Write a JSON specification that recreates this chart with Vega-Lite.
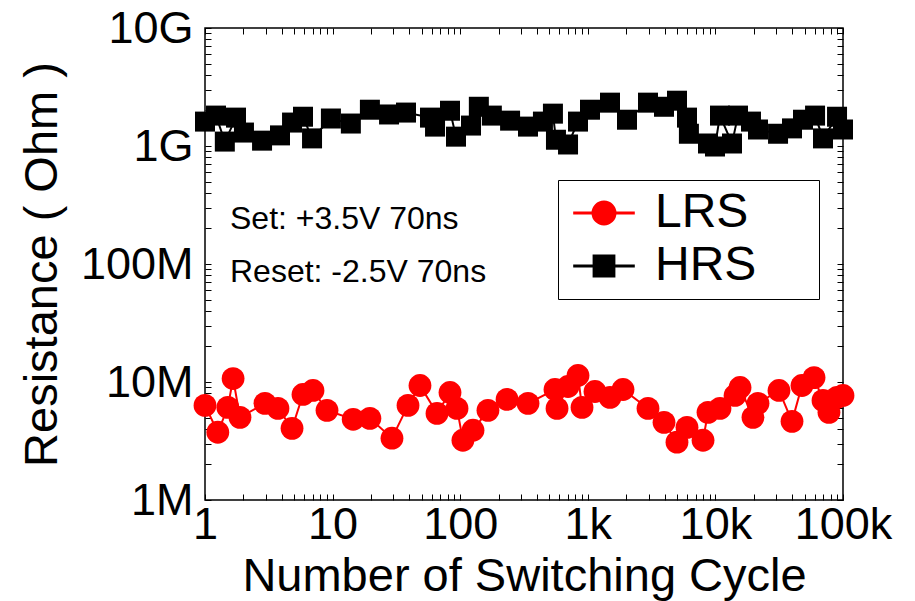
{
  "$schema": "https://vega.github.io/schema/vega-lite/v6.json",
  "width": 638,
  "height": 472,
  "autosize": {"type": "none"},
  "padding": {"left": 205, "top": 28, "right": 72, "bottom": 101},
  "background": "white",
  "config": {
    "font": "Liberation Sans",
    "view": {"stroke": "black", "strokeWidth": 1.5},
    "axis": {"grid": false, "domain": false, "labelFont": "Liberation Sans", "titleFont": "Liberation Sans", "labelColor": "black", "titleColor": "black", "tickColor": "black", "titleFontWeight": "normal"}
  },
  "datasets": {
    "pts": [
      {"series": "HRS", "cycle": 1, "r": 1.61e9},
      {"series": "HRS", "cycle": 1.22, "r": 1.81e9},
      {"series": "HRS", "cycle": 1.43, "r": 1.09e9},
      {"series": "HRS", "cycle": 1.75, "r": 1.74e9},
      {"series": "HRS", "cycle": 2.02, "r": 1.30e9},
      {"series": "HRS", "cycle": 2.80, "r": 1.11e9},
      {"series": "HRS", "cycle": 3.87, "r": 1.23e9},
      {"series": "HRS", "cycle": 4.81, "r": 1.58e9},
      {"series": "HRS", "cycle": 5.86, "r": 1.77e9},
      {"series": "HRS", "cycle": 6.90, "r": 1.16e9},
      {"series": "HRS", "cycle": 9.7, "r": 1.71e9},
      {"series": "HRS", "cycle": 13.9, "r": 1.55e9},
      {"series": "HRS", "cycle": 19.6, "r": 2.03e9},
      {"series": "HRS", "cycle": 27.7, "r": 1.85e9},
      {"series": "HRS", "cycle": 37.6, "r": 1.92e9},
      {"series": "HRS", "cycle": 58, "r": 1.74e9},
      {"series": "HRS", "cycle": 63.5, "r": 1.46e9},
      {"series": "HRS", "cycle": 83.2, "r": 1.99e9},
      {"series": "HRS", "cycle": 92.7, "r": 1.20e9},
      {"series": "HRS", "cycle": 121.5, "r": 1.49e9},
      {"series": "HRS", "cycle": 140, "r": 2.15e9},
      {"series": "HRS", "cycle": 177, "r": 1.81e9},
      {"series": "HRS", "cycle": 246, "r": 1.64e9},
      {"series": "HRS", "cycle": 340, "r": 1.46e9},
      {"series": "HRS", "cycle": 445, "r": 1.61e9},
      {"series": "HRS", "cycle": 533, "r": 1.88e9},
      {"series": "HRS", "cycle": 563, "r": 1.13e9},
      {"series": "HRS", "cycle": 700, "r": 1.03e9},
      {"series": "HRS", "cycle": 838, "r": 1.61e9},
      {"series": "HRS", "cycle": 1040, "r": 2.03e9},
      {"series": "HRS", "cycle": 1493, "r": 2.33e9},
      {"series": "HRS", "cycle": 2028, "r": 1.67e9},
      {"series": "HRS", "cycle": 2963, "r": 2.33e9},
      {"series": "HRS", "cycle": 3957, "r": 2.15e9},
      {"series": "HRS", "cycle": 5000, "r": 2.42e9},
      {"series": "HRS", "cycle": 5990, "r": 1.74e9},
      {"series": "HRS", "cycle": 6200, "r": 1.27e9},
      {"series": "HRS", "cycle": 8750, "r": 1.05e9},
      {"series": "HRS", "cycle": 9930, "r": 0.99e9},
      {"series": "HRS", "cycle": 10860, "r": 1.81e9},
      {"series": "HRS", "cycle": 13490, "r": 1.05e9},
      {"series": "HRS", "cycle": 15030, "r": 1.81e9},
      {"series": "HRS", "cycle": 19000, "r": 1.61e9},
      {"series": "HRS", "cycle": 21570, "r": 1.38e9},
      {"series": "HRS", "cycle": 30970, "r": 1.27e9},
      {"series": "HRS", "cycle": 39850, "r": 1.41e9},
      {"series": "HRS", "cycle": 48600, "r": 1.67e9},
      {"series": "HRS", "cycle": 60400, "r": 1.81e9},
      {"series": "HRS", "cycle": 69700, "r": 1.16e9},
      {"series": "HRS", "cycle": 89800, "r": 1.77e9},
      {"series": "HRS", "cycle": 100000, "r": 1.38e9},
      {"series": "LRS", "cycle": 1, "r": 6.33e6},
      {"series": "LRS", "cycle": 1.26, "r": 3.75e6},
      {"series": "LRS", "cycle": 1.51, "r": 6.09e6},
      {"series": "LRS", "cycle": 1.66, "r": 10.7e6},
      {"series": "LRS", "cycle": 1.88, "r": 5.02e6},
      {"series": "LRS", "cycle": 2.95, "r": 6.59e6},
      {"series": "LRS", "cycle": 3.73, "r": 5.97e6},
      {"series": "LRS", "cycle": 4.81, "r": 4.05e6},
      {"series": "LRS", "cycle": 5.86, "r": 7.84e6},
      {"series": "LRS", "cycle": 7.02, "r": 8.48e6},
      {"series": "LRS", "cycle": 9.04, "r": 5.75e6},
      {"series": "LRS", "cycle": 14.5, "r": 4.83e6},
      {"series": "LRS", "cycle": 19.6, "r": 4.92e6},
      {"series": "LRS", "cycle": 29.2, "r": 3.34e6},
      {"series": "LRS", "cycle": 39.0, "r": 6.33e6},
      {"series": "LRS", "cycle": 48.4, "r": 9.34e6},
      {"series": "LRS", "cycle": 65.8, "r": 5.42e6},
      {"series": "LRS", "cycle": 83.2, "r": 8.15e6},
      {"series": "LRS", "cycle": 94.4, "r": 5.97e6},
      {"series": "LRS", "cycle": 105, "r": 3.21e6},
      {"series": "LRS", "cycle": 126, "r": 3.90e6},
      {"series": "LRS", "cycle": 165, "r": 5.75e6},
      {"series": "LRS", "cycle": 233, "r": 7.12e6},
      {"series": "LRS", "cycle": 340, "r": 6.59e6},
      {"series": "LRS", "cycle": 553, "r": 8.64e6},
      {"series": "LRS", "cycle": 574, "r": 5.97e6},
      {"series": "LRS", "cycle": 700, "r": 9.16e6},
      {"series": "LRS", "cycle": 838, "r": 11.35e6},
      {"series": "LRS", "cycle": 901, "r": 6.09e6},
      {"series": "LRS", "cycle": 1138, "r": 8.31e6},
      {"series": "LRS", "cycle": 1493, "r": 7.40e6},
      {"series": "LRS", "cycle": 1888, "r": 8.64e6},
      {"series": "LRS", "cycle": 2963, "r": 5.97e6},
      {"series": "LRS", "cycle": 3957, "r": 4.55e6},
      {"series": "LRS", "cycle": 5000, "r": 3.09e6},
      {"series": "LRS", "cycle": 5990, "r": 4.13e6},
      {"series": "LRS", "cycle": 8000, "r": 3.21e6},
      {"series": "LRS", "cycle": 8750, "r": 5.53e6},
      {"series": "LRS", "cycle": 10860, "r": 5.97e6},
      {"series": "LRS", "cycle": 14250, "r": 7.69e6},
      {"series": "LRS", "cycle": 15600, "r": 8.99e6},
      {"series": "LRS", "cycle": 19700, "r": 5.02e6},
      {"series": "LRS", "cycle": 21570, "r": 6.59e6},
      {"series": "LRS", "cycle": 31500, "r": 8.48e6},
      {"series": "LRS", "cycle": 39850, "r": 4.64e6},
      {"series": "LRS", "cycle": 47700, "r": 9.34e6},
      {"series": "LRS", "cycle": 59300, "r": 10.9e6},
      {"series": "LRS", "cycle": 69700, "r": 6.98e6},
      {"series": "LRS", "cycle": 77600, "r": 5.53e6},
      {"series": "LRS", "cycle": 89800, "r": 7.40e6},
      {"series": "LRS", "cycle": 100000, "r": 7.69e6}
    ],
    "notes": [
      {"cycle": 1.57, "r": 2.4e8, "t": "Set: +3.5V 70ns"},
      {"cycle": 1.57, "r": 8.5e7, "t": "Reset: -2.5V 70ns"}
    ]
  },
  "resolve": {"axis": {"x": "independent", "y": "independent"}},
  "layer": [
    {
      "data": {"name": "pts"},
      "mark": {"type": "line", "strokeWidth": 2},
      "encoding": {
        "x": {"field": "cycle", "type": "quantitative",
          "scale": {"type": "log", "domain": [1, 100000], "nice": false},
          "axis": {"orient": "bottom", "title": "Number of Switching Cycle", "titleFontSize": 47, "titlePadding": 6,
            "values": [1,2,3,4,5,6,7,8,9,10,20,30,40,50,60,70,80,90,100,200,300,400,500,600,700,800,900,1000,2000,3000,4000,5000,6000,7000,8000,9000,10000,20000,30000,40000,50000,60000,70000,80000,90000,100000],
            "labelExpr": "datum.value == 1 ? '1' : datum.value == 10 ? '10' : datum.value == 100 ? '100' : datum.value == 1000 ? '1k' : datum.value == 10000 ? '10k' : datum.value == 100000 ? '100k' : ''",
            "labelFontSize": 45, "labelFlush": false, "labelOverlap": false, "labelPadding": 8, "tickSize": -6, "tickWidth": 1}},
        "y": {"field": "r", "type": "quantitative",
          "scale": {"type": "log", "domain": [1000000, 10000000000], "nice": false},
          "axis": {"orient": "left", "title": "Resistance ( Ohm )", "titleFontSize": 47, "titlePadding": 14,
            "values": [1000000,2000000,3000000,4000000,5000000,6000000,7000000,8000000,9000000,10000000,20000000,30000000,40000000,50000000,60000000,70000000,80000000,90000000,100000000,200000000,300000000,400000000,500000000,600000000,700000000,800000000,900000000,1000000000,2000000000,3000000000,4000000000,5000000000,6000000000,7000000000,8000000000,9000000000,10000000000],
            "labelExpr": "datum.value == 1e6 ? '1M' : datum.value == 1e7 ? '10M' : datum.value == 1e8 ? '100M' : datum.value == 1e9 ? '1G' : datum.value == 1e10 ? '10G' : ''",
            "labelFontSize": 45, "labelOverlap": false, "labelFlush": false, "labelPadding": 18, "tickSize": -6, "tickWidth": 1}},
        "color": {"field": "series", "type": "nominal", "scale": {"domain": ["LRS", "HRS"], "range": ["#ff0000", "#000000"]},
          "legend": {"orient": "none", "legendX": 353, "legendY": 152, "title": null,
            "labelFontSize": 48, "labelFont": "Liberation Sans", "labelColor": "black",
            "labelExpr": "datum.label + '\u00a0\u00a0\u00a0\u00a0\u200b'",
            "symbolSize": 484, "symbolOffset": 13, "labelOffset": 27, "rowPadding": 5,
            "symbolStrokeWidth": 3, "symbolOpacity": 1,
            "padding": 9, "strokeColor": "black", "fillColor": "white",
            "labelLimit": 400}}
      }
    },
    {
      "data": {"name": "pts"},
      "transform": [{"filter": "datum.series === 'HRS'"}],
      "mark": {"type": "point", "filled": true, "opacity": 1, "shape": "square", "size": 400},
      "encoding": {
        "x": {"field": "cycle", "type": "quantitative",
          "axis": {"orient": "top", "title": null, "labels": false,
            "values": [1,2,3,4,5,6,7,8,9,10,20,30,40,50,60,70,80,90,100,200,300,400,500,600,700,800,900,1000,2000,3000,4000,5000,6000,7000,8000,9000,10000,20000,30000,40000,50000,60000,70000,80000,90000,100000],
            "tickSize": -6, "tickWidth": 1}},
        "y": {"field": "r", "type": "quantitative",
          "axis": {"orient": "right", "title": null, "labels": false,
            "values": [1000000,2000000,3000000,4000000,5000000,6000000,7000000,8000000,9000000,10000000,20000000,30000000,40000000,50000000,60000000,70000000,80000000,90000000,100000000,200000000,300000000,400000000,500000000,600000000,700000000,800000000,900000000,1000000000,2000000000,3000000000,4000000000,5000000000,6000000000,7000000000,8000000000,9000000000,10000000000],
            "tickSize": -6, "tickWidth": 1}},
        "color": {"field": "series", "type": "nominal"}
      }
    },
    {
      "data": {"name": "pts"},
      "transform": [{"filter": "datum.series === 'LRS'"}],
      "mark": {"type": "point", "filled": true, "opacity": 1, "shape": "circle", "size": 520},
      "encoding": {
        "x": {"field": "cycle", "type": "quantitative", "axis": null},
        "y": {"field": "r", "type": "quantitative", "axis": null},
        "color": {"field": "series", "type": "nominal"}
      }
    },
    {
      "data": {"name": "pts"},
      "transform": [{"filter": "false"}],
      "mark": {"type": "point", "filled": true, "opacity": 1},
      "encoding": {
        "color": {"field": "series", "type": "nominal"},
        "shape": {"field": "series", "type": "nominal", "scale": {"domain": ["LRS", "HRS"], "range": ["M-2.8,0L2.8,0M1,0A1,1 0 1,1 -1,0A1,1 0 1,1 1,0Z", "M-2.8,0L2.8,0M-0.9,-0.9L0.9,-0.9L0.9,0.9L-0.9,0.9Z"]}}
      }
    },
    {
      "data": {"name": "notes"},
      "mark": {"type": "text", "align": "left", "baseline": "middle", "fontSize": 32, "font": "Liberation Sans", "color": "black"},
      "encoding": {
        "x": {"field": "cycle", "type": "quantitative", "axis": null},
        "y": {"field": "r", "type": "quantitative", "axis": null},
        "text": {"field": "t"}
      }
    }
  ]
}
